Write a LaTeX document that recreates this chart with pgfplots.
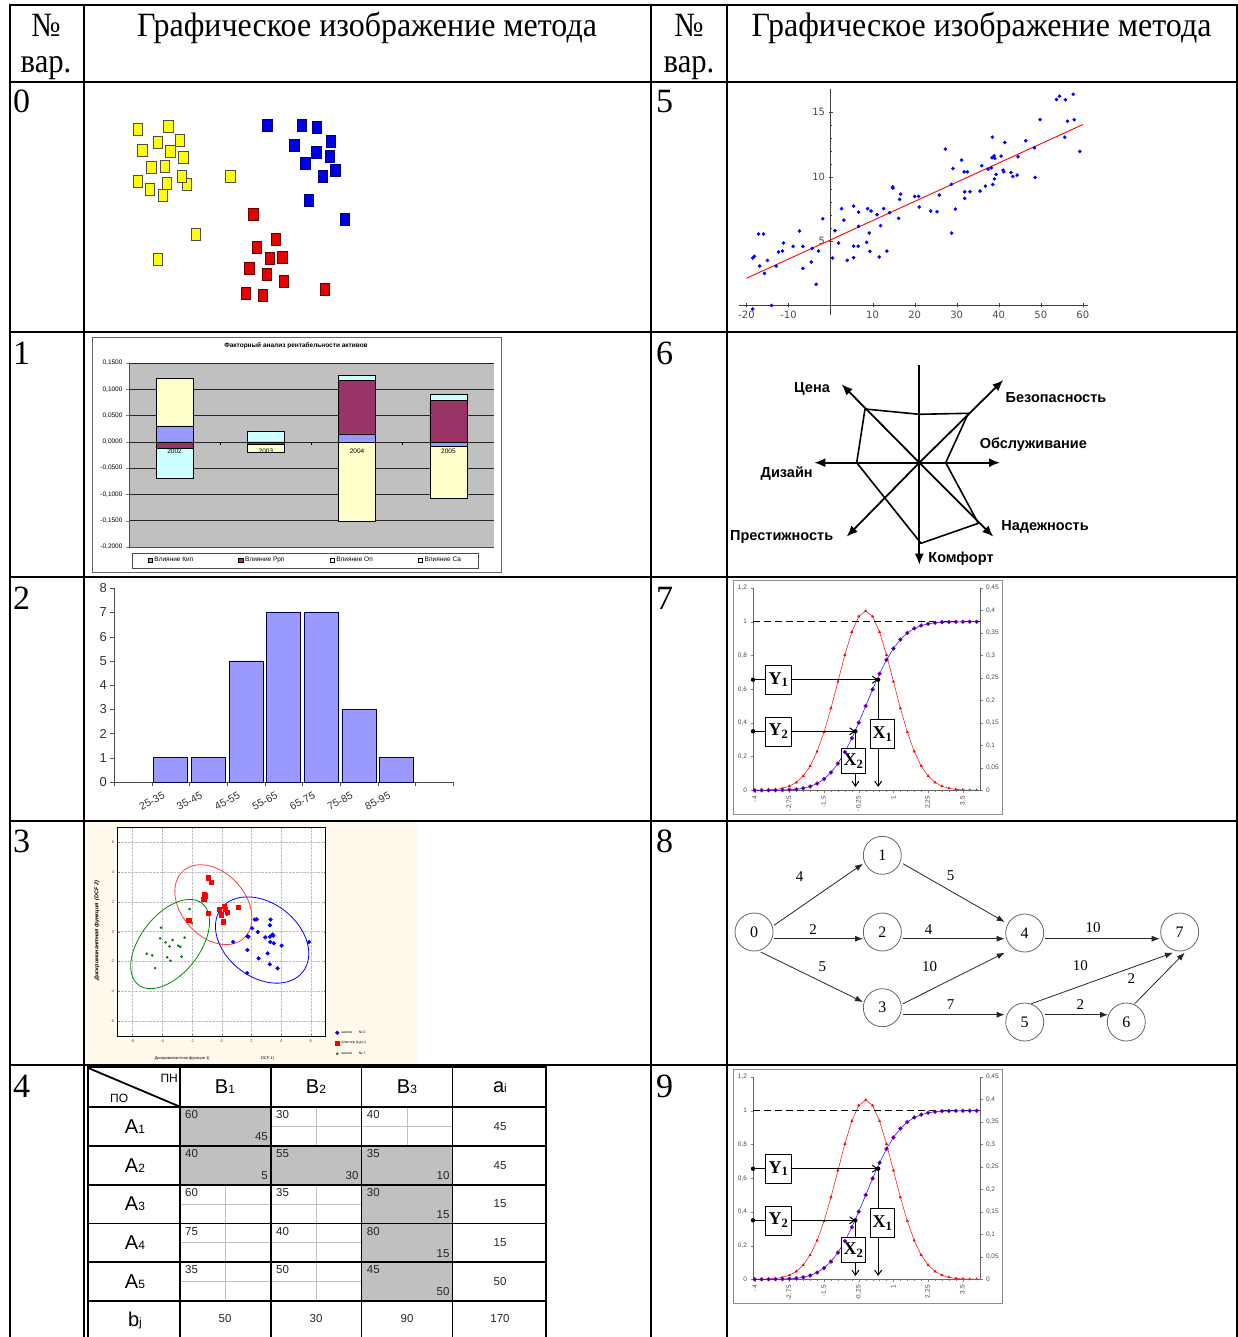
\documentclass[border=0pt]{standalone}
\usepackage{fontspec}
\setmainfont{Liberation Serif}
\setsansfont{Liberation Sans}
\newfontfamily\dejavu{DejaVu Sans}
\usepackage{pgfplots}
\pgfplotsset{compat=1.18}
\usetikzlibrary{arrows.meta}
\pgfplotsset{/pgf/number format/assume math mode=true}
\newcommand\fs[1]{\fontsize{#1}{#1}\selectfont}
\definecolor{kip}{RGB}{153,153,255}
\definecolor{rpp}{RGB}{153,51,102}
\definecolor{opc}{RGB}{255,255,204}
\definecolor{cac}{RGB}{204,255,255}
\definecolor{plotgray}{RGB}{192,192,192}
\definecolor{cream}{RGB}{255,250,236}
\definecolor{sqyellow}{RGB}{255,255,0}
\definecolor{sqblue}{RGB}{0,0,230}
\definecolor{sqred}{RGB}{230,0,0}
\definecolor{histbar}{RGB}{153,153,255}
\definecolor{mkfill}{RGB}{30,0,160}
\definecolor{mkdraw}{RGB}{170,0,200}

\newcommand\sigmachart[3]{%
  \draw[black!45, line width=0.8pt] (733,-#2) rectangle (1002,-#3);
  \begin{axis}[at={(753pt,-#1pt)}, anchor=south west, scale only axis,
    width=227pt, height=202.3pt, xmin=-4.06, xmax=4.12, ymin=0, ymax=0.45,
    axis x line=none, axis y line*=right, axis line style={-, black!60},
    ytick={0,0.05,0.1,0.15,0.2,0.25,0.3,0.35,0.4,0.45},
    tick label style={font=\sffamily\fs{6.5}, text=black!70, /pgf/number format/fixed, /pgf/number format/precision=2, /pgf/number format/use comma},
    tick align=outside, major tick length=2.5pt, clip=false]
    \addplot[red, line width=0.5pt, mark=triangle*, mark size=1.3pt, mark options={fill=red}] coordinates {
      (-4,0.00013) (-3.75,0.00035) (-3.5,0.00087) (-3.25,0.00203) (-3,0.00443) (-2.75,0.00909)
      (-2.5,0.01753) (-2.25,0.03174) (-2,0.05399) (-1.75,0.08628) (-1.5,0.12952) (-1.25,0.18265)
      (-1,0.24197) (-0.75,0.30114) (-0.5,0.35207) (-0.25,0.38667) (0,0.39894) (0.25,0.38667)
      (0.5,0.35207) (0.75,0.30114) (1,0.24197) (1.25,0.18265) (1.5,0.12952) (1.75,0.08628)
      (2,0.05399) (2.25,0.03174) (2.5,0.01753) (2.75,0.00909) (3,0.00443) (3.25,0.00203)
      (3.5,0.00087) (3.75,0.00035) (4,0.00013)};
  \end{axis}
  \begin{axis}[at={(753pt,-#1pt)}, anchor=south west, scale only axis,
    width=227pt, height=202.3pt, xmin=-4.06, xmax=4.12, ymin=0, ymax=1.2,
    axis x line*=bottom, axis y line*=left, axis line style={-, black!60},
    ytick={0,0.2,0.4,0.6,0.8,1,1.2},
    xtick={-4,-2.75,-1.5,-0.25,1,2.25,3.5}, minor x tick num=4,
    tick label style={font=\sffamily\fs{6.5}, text=black!70, /pgf/number format/fixed, /pgf/number format/precision=2, /pgf/number format/use comma},
    xticklabel style={rotate=90, anchor=east},
    tick align=outside, major tick length=2.5pt, minor tick length=1.5pt, clip=false]
    \addplot[black, line width=1.3pt, dash pattern=on 7pt off 4pt] coordinates {(-4.06,1) (4.12,1)};
    \addplot[blue, line width=0.5pt, mark=*, mark size=1.9pt, mark options={fill=mkfill, draw=mkdraw, line width=0.5pt}] coordinates {
      (-4,0.00003) (-3.75,0.00009) (-3.5,0.00023) (-3.25,0.00058) (-3,0.00135) (-2.75,0.00298)
      (-2.5,0.00621) (-2.25,0.01222) (-2,0.02275) (-1.75,0.04006) (-1.5,0.06681) (-1.25,0.10565)
      (-1,0.15866) (-0.75,0.22663) (-0.5,0.30854) (-0.25,0.40129) (0,0.5) (0.25,0.59871)
      (0.5,0.69146) (0.75,0.77337) (1,0.84134) (1.25,0.89435) (1.5,0.93319) (1.75,0.95994)
      (2,0.97725) (2.25,0.98778) (2.5,0.99379) (2.75,0.99702) (3,0.99865) (3.25,0.99942)
      (3.5,0.99977) (3.75,0.99991) (4,0.99997)};
    \draw[line width=1pt, -{Straight Barb[length=5pt,width=7pt]}] (axis cs:-4.06,0.656) -- (axis cs:0.45,0.656);
    \draw[line width=1pt, -{Straight Barb[length=5pt,width=7pt]}] (axis cs:0.45,0.656) -- (axis cs:0.45,0.02);
    \draw[line width=1pt, -{Straight Barb[length=5pt,width=7pt]}] (axis cs:-4.06,0.35) -- (axis cs:-0.37,0.35);
    \draw[line width=1pt, -{Straight Barb[length=5pt,width=7pt]}] (axis cs:-0.37,0.35) -- (axis cs:-0.37,0.02);
    \fill (axis cs:-4.06,0.656) circle[radius=2.2pt];
    \fill (axis cs:0.45,0.656) circle[radius=2.2pt];
    \fill (axis cs:-4.06,0.35) circle[radius=2.2pt];
    \fill (axis cs:-0.37,0.35) circle[radius=2.2pt];
    \node[draw, fill=white, line width=0.6pt, minimum width=26pt, minimum height=29pt, inner sep=1pt, font=\bfseries\fs{18}] at (axis cs:-3.14,0.656) {Y\textsubscript{1}};
    \node[draw, fill=white, line width=0.6pt, minimum width=26pt, minimum height=29pt, inner sep=1pt, font=\bfseries\fs{18}] at (axis cs:-3.14,0.35) {Y\textsubscript{2}};
    \node[draw, fill=white, line width=0.6pt, minimum width=24pt, minimum height=29pt, inner sep=1pt, font=\bfseries\fs{18}] at (axis cs:0.61,0.335) {X\textsubscript{1}};
    \node[draw, fill=white, line width=0.6pt, minimum width=24pt, minimum height=25pt, inner sep=1pt, font=\bfseries\fs{18}] at (axis cs:-0.44,0.174) {X\textsubscript{2}};
  \end{axis}
}

\begin{document}
\begin{tikzpicture}[x=1pt,y=1pt]
\useasboundingbox (0,0) rectangle (1238,-1337);
\begin{scope}
\clip (0,0) rectangle (1238,-1337);
\fill[white] (0,0) rectangle (1238,-1337);

% ---------------- outer table ----------------
\draw[line width=2pt] (10,-1337) -- (10,-5) -- (1236.5,-5) -- (1236.5,-1337);
\foreach \x in {84,651,727} \draw[line width=2pt] (\x,-5) -- (\x,-1337);
\foreach \y in {82,332,576.5,820.5,1065} \draw[line width=2pt] (10,-\y) -- (1236.5,-\y);

\node[anchor=base, inner sep=0] at (46,-37) {\fs{34}\scalebox{0.9}[1]{№}};
\node[anchor=base, inner sep=0] at (46,-73) {\fs{34}\scalebox{0.9}[1]{вар.}};
\node[anchor=base, inner sep=0] at (689,-37) {\fs{34}\scalebox{0.9}[1]{№}};
\node[anchor=base, inner sep=0] at (689,-73) {\fs{34}\scalebox{0.9}[1]{вар.}};
\node[anchor=base, inner sep=0] at (367,-37) {\fs{34}\scalebox{0.94}[1]{Графическое изображение метода}};
\node[anchor=base, inner sep=0] at (981.5,-37) {\fs{34}\scalebox{0.94}[1]{Графическое изображение метода}};
\foreach \n/\xx/\yy in {0/13/113, 1/13/364, 2/13/609, 3/13/852, 4/13/1097, 5/656/113, 6/656/364, 7/656/609, 8/656/852, 9/656/1097}
  \node[anchor=base west, inner sep=0] at (\xx,-\yy) {\fs{34}\n};

% ---------------- chart 0: clusters ----------------
\begin{axis}[at={(84pt,-82pt)}, anchor=north west, scale only axis, width=567pt, height=250pt,
  xmin=84, xmax=651, ymin=82, ymax=332, y dir=reverse, hide axis, clip=false]
  \addplot[only marks, mark=square*, mark size=6pt, mark options={xscale=0.8, fill=sqyellow, draw=black!70, line width=0.7pt}] coordinates {
    (137.7,129) (168.3,126.7) (157.7,142.3) (180,140.7) (142.3,150.7) (170.3,151.7) (183.3,157.3)
    (151.3,167.7) (165,166.7) (187,184) (181.7,176.7) (137.7,181) (149.7,189.3) (166.7,183.3)
    (162.7,195) (230.3,176) (195.7,234) (157.7,259.7)};
  \addplot[only marks, mark=square*, mark size=6pt, mark options={xscale=0.8, fill=sqblue, draw=blue!50!black, line width=0.7pt}] coordinates {
    (267.3,125.7) (302,125.7) (317,127) (294.3,145.3) (330.7,141) (316.3,152.7) (329.7,156.3)
    (305.3,163) (322.7,176.3) (335.3,170.7) (309,200.3) (345,219.3)};
  \addplot[only marks, mark=square*, mark size=6pt, mark options={xscale=0.8, fill=sqred, draw=red!40!black, line width=0.7pt}] coordinates {
    (253.3,214.3) (275.7,239.7) (256.7,247) (270,258.7) (282.3,257.3) (249.3,268.7) (266.7,274.7)
    (283.7,281.7) (246,293) (263,295) (325,289)};
\end{axis}

% ---------------- chart 1: stacked bars ----------------
\draw[black!60, line width=0.7pt] (92,-337) rectangle (501,-572);
\node[font=\sffamily\bfseries\fs{6.5}] at (296,-346) {Факторный анализ рентабельности активов};
\begin{axis}[at={(129pt,-547pt)}, anchor=south west, scale only axis, width=365pt, height=184pt,
  xmin=0.5, xmax=4.5, ymin=-0.2, ymax=0.15, ybar stacked, bar width=37pt,
  axis background/.style={fill=plotgray},
  axis lines*=left, axis line style={-, black!70},
  xtick=\empty, ytick={-0.2,-0.15,-0.1,-0.05,0,0.05,0.1,0.15},
  ymajorgrids, grid style={black!85, line width=0.5pt},
  tick align=outside, major tick length=3pt,
  tick label style={font=\sffamily\fs{6.5}, /pgf/number format/fixed, /pgf/number format/fixed zerofill, /pgf/number format/precision=4, /pgf/number format/use comma},
  legend columns=4,
  legend style={at={(0.483,-0.073)}, anchor=center, draw=black!70, fill=white, font=\sffamily\fs{6.5}, inner xsep=15pt, inner ysep=2.5pt,
    /tikz/every even column/.append style={column sep=43pt}},
  legend image code/.code={\draw[#1, line width=0.4pt] (0pt,-2.2pt) rectangle (4.4pt,2.2pt);},
  clip=false]
  \addplot[fill=kip, draw=black, line width=0.5pt] coordinates {(1,0.0306) (2,0) (3,0.0153) (4,0)};
  \addplot[fill=rpp, draw=black, line width=0.5pt] coordinates {(1,0) (2,0) (3,0.1015) (4,0.0791)};
  \addplot[fill=opc, draw=black, line width=0.5pt] coordinates {(1,0.0907) (2,0) (3,0) (4,0)};
  \addplot[fill=cac, draw=black, line width=0.5pt] coordinates {(1,0) (2,0.021) (3,0.0102) (4,0.0115)};
  \legend{Влияние Кип, Влияние Ррп, Влияние Оп, Влияние Са}
\end{axis}
\begin{axis}[at={(129pt,-547pt)}, anchor=south west, scale only axis, width=365pt, height=184pt,
  xmin=0.5, xmax=4.5, ymin=-0.2, ymax=0.15, ybar stacked, bar width=37pt, hide axis, clip=false]
  \addplot[fill=kip, draw=black, line width=0.5pt] coordinates {(1,0) (2,0) (3,0) (4,-0.0083)};
  \addplot[fill=rpp, draw=black, line width=0.5pt] coordinates {(1,-0.0128) (2,-0.004) (3,0) (4,0)};
  \addplot[fill=opc, draw=black, line width=0.5pt] coordinates {(1,0) (2,-0.0165) (3,-0.1513) (4,-0.0983)};
  \addplot[fill=cac, draw=black, line width=0.5pt] coordinates {(1,-0.056) (2,0) (3,0) (4,0)};
\end{axis}
\node[font=\sffamily\fs{6.5}, inner sep=0] at (174.6,-451.5) {2002};
\node[font=\sffamily\fs{6.5}, inner sep=0] at (265.9,-451.5) {2003};
\node[font=\sffamily\fs{6.5}, inner sep=0] at (357.1,-451.5) {2004};
\node[font=\sffamily\fs{6.5}, inner sep=0] at (448.4,-451.5) {2005};
\foreach \x in {220.3,311.5,402.8} \draw[black, line width=0.8pt] (\x,-442) -- (\x,-444.5);

% ---------------- chart 2: histogram ----------------
\begin{axis}[at={(114.3pt,-782pt)}, anchor=south west, scale only axis, width=338.7pt, height=193.7pt,
  xmin=0, xmax=9, ymin=0, ymax=8, axis lines=left, axis line style={-, black!70},
  ybar, bar width=34pt,
  xtick={1,2,3,4,5,6,7}, xticklabels={25-35,35-45,45-55,55-65,65-75,75-85,85-95},
  minor xtick={0,8,9}, ytick={0,1,2,3,4,5,6,7,8},
  tick align=outside, major tick length=4pt, minor tick length=4pt,
  tick style={black!70},
  yticklabel style={font=\sffamily\fs{13}, text=black!80},
  xticklabel style={font=\sffamily\fs{10.5}, text=black!80, yshift=-15pt, rotate=27, anchor=center},
  clip=false]
  \addplot[fill=histbar, draw=black!70!blue, line width=0.7pt] coordinates {(1.5,1) (2.5,1) (3.5,5) (4.5,7) (5.5,7) (6.5,3) (7.5,1)};
\end{axis}

% ---------------- chart 3: discriminant scatter ----------------
\fill[cream] (86,-822) rectangle (418,-1064);
\begin{axis}[at={(117.7pt,-1036pt)}, anchor=south west, scale only axis, width=208pt, height=208.7pt,
  xmin=-7, xmax=7, ymin=-7, ymax=7, axis background/.style={fill=white},
  xtick={-6,-4,-2,0,2,4,6}, ytick={-6,-4,-2,0,2,4,6},
  grid=major, grid style={densely dotted, black!25},
  axis line style={black, line width=0.8pt},
  tick label style={font=\sffamily\fs{4}, text=black!70}, tick align=inside, major tick length=2pt,
  legend style={at={(1.03,0.045)}, anchor=north west, draw=none, fill=none, font=\sffamily\fs{3.5}, row sep=2.5pt},
  legend cell align=left, clip=false]
  \draw[red!75!white, line width=0.8pt, rotate around={-48:(axis cs:-0.56,1.81)}] (axis cs:-0.56,1.81) ellipse [x radius=3.05, y radius=2.15];
  \draw[blue, line width=0.8pt, rotate around={-38:(axis cs:2.72,-0.56)}] (axis cs:2.72,-0.56) ellipse [x radius=3.48, y radius=2.48];
  \draw[green!55!black, line width=0.8pt, rotate around={52:(axis cs:-3.47,-0.83)}] (axis cs:-3.47,-0.83) ellipse [x radius=3.48, y radius=1.98];
  \addplot[only marks, mark=*, mark size=1.9pt, blue] coordinates {
    (0.34,1.19) (0.77,-0.69) (1.73,-0.31) (1.80,-0.34) (2.05,0.22) (2.23,0.81) (2.36,0.83) (2.43,-0.02)
    (3.29,0.81) (3.24,0.43) (2.93,-0.38) (3.24,-0.34) (3.42,-0.20) (3.47,-0.27) (3.27,-0.69) (3.51,-0.78)
    (4.03,-0.94) (5.88,-0.69) (1.73,-1.23) (3.09,-1.46) (2.48,-1.79) (3.24,-2.19) (3.76,-2.46) (1.71,-2.78)};
  \addplot[only marks, mark=square*, mark size=2.2pt, red] coordinates {
    (-0.9,3.63) (-0.70,3.31) (-1.17,2.51) (-1.10,2.40) (-1.22,2.19) (-0.90,1.23) (-2.23,0.78) (-0.16,1.52)
    (0.16,1.72) (0.23,1.52) (0.36,1.32) (-0.05,1.14) (0.11,0.67) (1.13,1.63)};
  \addplot[only marks, mark=*, mark size=1.1pt, green!50!black] coordinates {
    (-2.16,1.52) (-2.0,0.58) (-4.08,0.27) (-4.14,-0.45) (-3.78,-0.72) (-3.31,-0.56) (-3.51,-0.99) (-2.93,-0.94)
    (-2.79,-1.01) (-2.50,-0.40) (-5.05,-1.48) (-4.68,-1.59) (-3.67,-1.72) (-3.45,-1.95) (-2.70,-1.68) (-4.48,-2.44)};
  \legend{школа\quad\quad № 2, Кластер (к.д.к.), школа\quad\quad № 7}
\end{axis}
\node[rotate=90, font=\sffamily\bfseries\itshape\fs{5.5}] at (96.9,-930.6) {Дискриминантная функция \ (DCF 2)};
\node[font=\sffamily\fs{4}] at (182.2,-1058) {Дискриминантная функция 1(};
\node[font=\sffamily\fs{4}] at (267.5,-1058) {DCF 1)};

% ---------------- chart 4: transport table ----------------
\fill[plotgray] (180,-1106.7) rectangle (271,-1146);
\fill[plotgray] (180,-1146) rectangle (452.7,-1184.7);
\fill[plotgray] (361.7,-1184.7) rectangle (452.7,-1301);
\foreach \xa/\xb/\ya/\yb in {271/361.7/1106.7/1146, 361.7/452.7/1106.7/1146, 180/271/1184.7/1223.3, 271/361.7/1184.7/1223.3, 180/271/1223.3/1262, 271/361.7/1223.3/1262, 180/271/1262/1301, 271/361.7/1262/1301} {
  \draw[black!25, line width=0.6pt] ({(\xa+\xb)/2},-\ya) -- ({(\xa+\xb)/2},-\yb);
  \draw[black!25, line width=0.6pt] (\xa,{-(\ya+\yb)/2}) -- (\xb,{-(\ya+\yb)/2});
}
\foreach \x in {180,271,361.7,452.7} \draw[line width=1.3pt] (\x,-1066.7) -- (\x,-1340);
\foreach \y in {1146,1223.3,1262,1301} \draw[line width=1.3pt] (88.3,-\y) -- (546,-\y);
\draw[line width=2pt] (88.3,-1184.7) -- (546,-1184.7);
\draw[line width=2pt] (88.3,-1106.7) -- (546,-1106.7);
\draw[line width=2pt] (88.3,-1340) -- (88.3,-1066.7) -- (546,-1066.7) -- (546,-1340);
\draw[line width=1.8pt] (88.3,-1068) -- (180,-1106.7);
\node[anchor=east, font=\sffamily\fs{12}, inner sep=0] at (178,-1078) {ПН};
\node[anchor=west, font=\sffamily\fs{12}, inner sep=0] at (110,-1098) {ПО};
\foreach \xx/\l/\s in {225/B/1, 316/B/2, 407/B/3, 500/a/i}
  \node[font=\sffamily, inner sep=0] at (\xx,-1087) {{\fs{20}\l}{\fs{12}\s}};
\foreach \yy/\s in {1126.3/1, 1165.3/2, 1204/3, 1242.7/4, 1281.5/5}
  \node[font=\sffamily, inner sep=0] at (135,-\yy) {{\fs{20}A}{\fs{12}\s}};
\node[font=\sffamily, inner sep=0] at (135,-1320) {{\fs{20}b}{\fs{12}j}};
\foreach \xx/\yy/\t in {185/1114.7/60, 276/1114.7/30, 366.7/1114.7/40,
                       185/1154/40, 276/1154/55, 366.7/1154/35,
                       185/1192.7/60, 276/1192.7/35, 366.7/1192.7/30,
                       185/1231.3/75, 276/1231.3/40, 366.7/1231.3/80,
                       185/1270/35, 276/1270/50, 366.7/1270/45}
  \node[anchor=west, font=\sffamily\fs{11.5}, text=black!85, inner sep=0] at (\xx,-\yy) {\t};
\foreach \xx/\yy/\t in {268/1136.7/45, 268/1176/5, 358.7/1176/30, 449.7/1176/10,
                       449.7/1214.7/15, 449.7/1253.3/15, 449.7/1292/50}
  \node[anchor=east, font=\sffamily\fs{11.5}, text=black!85, inner sep=0] at (\xx,-\yy) {\t};
\foreach \xx/\yy/\t in {500/1126.3/45, 500/1165.3/45, 500/1204/15, 500/1242.7/15, 500/1281.5/50,
                       225/1319/50, 316/1319/30, 407/1319/90, 500/1319/170}
  \node[font=\sffamily\fs{11.5}, text=black!85, inner sep=0] at (\xx,-\yy) {\t};

% ---------------- chart 5: regression ----------------
\begin{axis}[at={(739.3pt,-315pt)}, anchor=south west, scale only axis, width=349pt, height=226pt,
  xmin=-21.7, xmax=61.3, ymin=-0.74, ymax=16.8, axis lines=middle,
  axis line style={-, black!75, line width=0.7pt},
  xtick={-20,-10,10,20,30,40,50,60}, ytick={5,10,15},
  minor x tick num=1, minor y tick num=4, tick style={black!75},
  major tick length=4pt, minor tick length=2pt,
  tick label style={font=\dejavu\fs{10}, text=black!70}, clip=false]
  \addplot[only marks, mark=*, mark size=1.6pt, blue] coordinates {
    (-18.49,3.68) (-18.10,3.81) (-17.14,5.54) (-15.95,5.54) (-16.83,3.06) (-15.71,2.49) (-15.0,3.50)
    (-14.05,0.0) (-18.5,-0.27) (-12.94,3.06) (-12.38,4.15) (-11.43,4.22) (-11.19,4.84) (-8.89,4.59)
    (-7.38,5.78) (-6.59,4.59) (-6.59,2.88) (-4.60,3.37) (-4.37,4.43) (-3.41,1.64) (-2.86,4.22)
    (-1.83,6.73) (0.48,3.68) (1.03,5.80) (1.90,4.84) (2.62,7.51) (3.17,6.63) (3.97,3.50) (5.48,7.71)
    (5.48,4.61) (5.48,3.71) (6.59,4.59) (6.67,7.25) (6.67,6.14) (8.57,4.90) (8.81,7.51) (9.21,5.62)
    (9.37,4.20) (9.60,7.33) (11.03,7.04) (11.59,3.76) (11.90,6.19) (12.62,7.51) (13.41,4.22)
    (14.05,7.20) (14.76,9.21) (14.84,9.11) (16.19,6.76) (16.43,8.23) (16.67,8.64) (20.0,8.46)
    (20.95,8.46) (21.11,7.64) (23.81,7.33) (25.32,7.27) (25.87,8.57) (27.30,12.13) (28.73,9.39)
    (29.13,10.63) (28.8,5.62) (29.68,7.48) (31.19,11.28) (31.75,10.37) (31.90,8.82) (32.54,10.37)
    (33.17,8.82) (31.9,8.31) (35.56,8.88) (35.95,10.84) (36.83,9.26) (37.46,10.58) (38.25,10.68)
    (38.41,11.46) (38.49,13.06) (38.57,9.39) (38.89,11.61) (38.97,9.83) (39.05,11.43) (39.37,10.17)
    (40.56,11.59) (41.03,10.50) (41.19,10.37) (41.43,12.65) (42.94,10.32) (43.33,10.01) (44.37,10.12)
    (44.60,11.54) (46.43,12.78) (48.49,12.24) (48.65,9.94) (49.84,14.43) (53.73,15.98) (54.44,16.24)
    (55.71,13.06) (55.87,15.96) (56.35,14.30) (57.70,16.39) (57.94,14.41) (59.29,11.95)};
  \addplot[red, line width=0.9pt] coordinates {(-20,2.11) (60,14.04)};
\end{axis}

% ---------------- chart 6: radar ----------------
\begin{axis}[at={(919.3pt,-462.7pt)}, anchor=center, scale only axis, width=240pt, height=240pt,
  xmin=-120, xmax=120, ymin=-120, ymax=120, hide axis, clip=false]
  \addplot[black, line width=1.8pt] coordinates {(0,0) (0,97.7)};
  \addplot[black, line width=1.8pt, -{Latex[length=11pt,width=9pt]}] coordinates {(0,0) (-77.6,78.4)};
  \addplot[black, line width=1.8pt, -{Latex[length=11pt,width=9pt]}] coordinates {(0,0) (84,82.7)};
  \addplot[black, line width=1.8pt, -{Latex[length=11pt,width=9pt]}] coordinates {(0,0) (80.7,0)};
  \addplot[black, line width=1.8pt, -{Latex[length=11pt,width=9pt]}] coordinates {(0,0) (74,-74)};
  \addplot[black, line width=1.8pt, -{Latex[length=11pt,width=9pt]}] coordinates {(0,0) (0,-102)};
  \addplot[black, line width=1.8pt, -{Latex[length=11pt,width=9pt]}] coordinates {(0,0) (-72.6,-74)};
  \addplot[black, line width=1.8pt, -{Latex[length=11pt,width=9pt]}] coordinates {(0,0) (-105,0)};
  \addplot[black, line width=1.6pt] coordinates {(-54.3,53.7) (0,48.4) (49,49.4) (26.4,0) (59,-60.6) (1.7,-80.6) (-62.6,0) (-54.3,53.7)};
  \addplot[only marks, mark=*, mark size=2.2pt, black] coordinates {(0,0)};
\end{axis}
\node[font=\sffamily\bfseries\fs{14.5}] at (812,-389) {Цена};
\node[font=\sffamily\bfseries\fs{14.5}] at (1056,-397.7) {Безопасность};
\node[font=\sffamily\bfseries\fs{14.5}] at (1033.3,-445) {Обслуживание};
\node[font=\sffamily\bfseries\fs{14.5}] at (786.7,-473.3) {Дизайн};
\node[font=\sffamily\bfseries\fs{14.5}] at (781.7,-536.7) {Престижность};
\node[font=\sffamily\bfseries\fs{14.5}] at (1045,-526.7) {Надежность};
\node[font=\sffamily\bfseries\fs{14.5}] at (961,-559) {Комфорт};

% ---------------- charts 7 and 9 ----------------
\sigmachart{790.3}{580.5}{814}
\sigmachart{1279.3}{1069.5}{1303}

% ---------------- chart 8: network ----------------
\begin{axis}[at={(727pt,-820pt)}, anchor=north west, scale only axis, width=511pt, height=245pt,
  xmin=727, xmax=1238, ymin=820, ymax=1065, y dir=reverse, hide axis, clip=false]
  \addplot[black!85, line width=0.8pt, -{Latex[length=8pt,width=6pt]}] coordinates {(774,925.3) (863,863.7)};
  \addplot[black!85, line width=0.8pt, -{Latex[length=8pt,width=6pt]}] coordinates {(774,938.7) (863,938.7)};
  \addplot[black!85, line width=0.8pt, -{Latex[length=8pt,width=6pt]}] coordinates {(760.7,952) (863,1002)};
  \addplot[black!85, line width=0.8pt, -{Latex[length=8pt,width=6pt]}] coordinates {(903,863.7) (1004.7,922)};
  \addplot[black!85, line width=0.8pt, -{Latex[length=8pt,width=6pt]}] coordinates {(903,938.7) (1004.7,938.7)};
  \addplot[black!85, line width=0.8pt, -{Latex[length=8pt,width=6pt]}] coordinates {(903,1003.7) (1004.7,952.7)};
  \addplot[black!85, line width=0.8pt, -{Latex[length=8pt,width=6pt]}] coordinates {(903,1014.7) (1004.7,1014.7)};
  \addplot[black!85, line width=0.8pt, -{Latex[length=8pt,width=6pt]}] coordinates {(1044.7,938.7) (1159.7,938.7)};
  \addplot[black!85, line width=0.8pt, -{Latex[length=8pt,width=6pt]}] coordinates {(1031.3,1003.7) (1173,952.7)};
  \addplot[black!85, line width=0.8pt, -{Latex[length=8pt,width=6pt]}] coordinates {(1044.7,1014.7) (1108,1014.7)};
  \addplot[black!85, line width=0.8pt, -{Latex[length=8pt,width=6pt]}] coordinates {(1134.7,1003.7) (1184.7,952.7)};
  \addplot[only marks, mark=*, mark size=19pt, mark options={fill=white, draw=black!60, line width=0.8pt}] coordinates {
    (754,932) (882.3,855.3) (882.3,932) (882.3,1007.7) (1024.7,933) (1024.7,1022) (1126.3,1022) (1179.7,932)};
\end{axis}
\foreach \xx/\yy/\t in {754/932/0, 882.3/855.3/1, 882.3/932/2, 882.3/1007.7/3, 1024.7/933/4, 1024.7/1022/5, 1126.3/1022/6, 1179.7/932/7}
  \node[font=\fs{16}, inner sep=0] at (\xx,-\yy) {\t};
\foreach \xx/\yy/\t in {799.7/877/4, 950.7/875.3/5, 813/929.3/2, 928.7/929.3/4, 822.3/967/5, 929.7/967/10,
                        950.7/1004.7/7, 1093/928/10, 1080.3/966/10, 1131.3/978.7/2, 1080.3/1004.7/2}
  \node[font=\fs{15}, inner sep=0] at (\xx,-\yy) {\t};

\end{scope}
\end{tikzpicture}
\end{document}
